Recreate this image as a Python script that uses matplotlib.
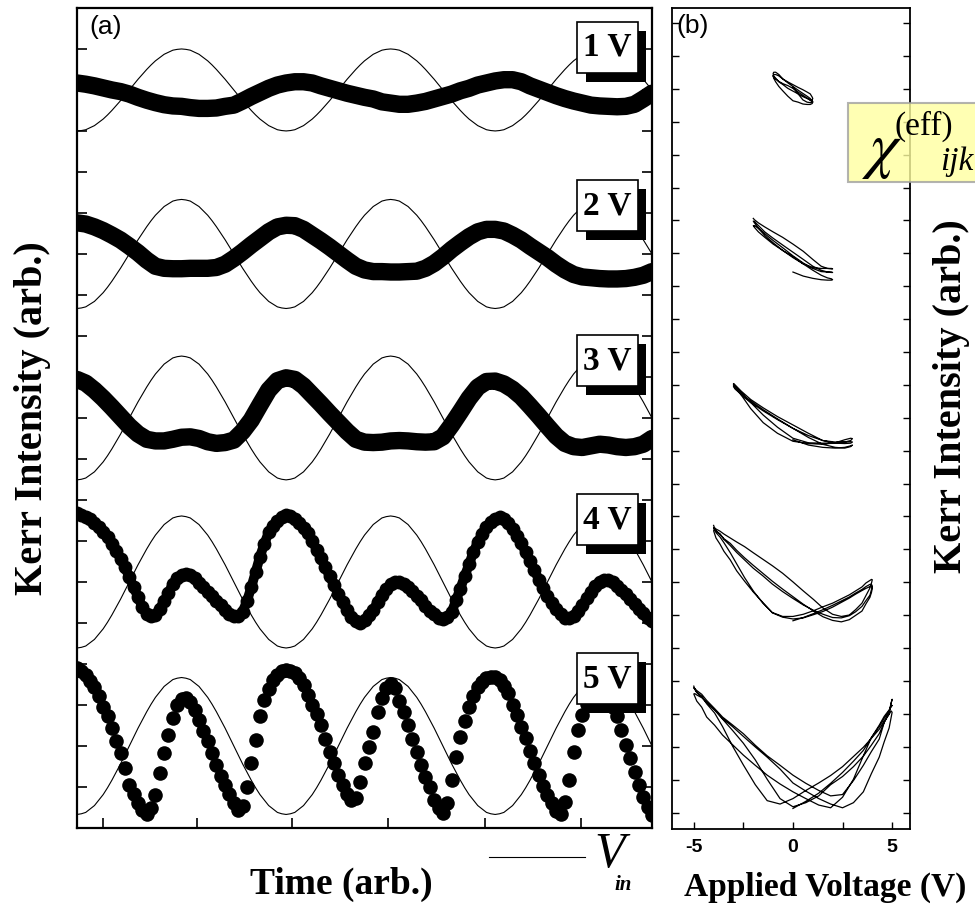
import numpy as np
import matplotlib.pyplot as plt
from matplotlib.patches import Rectangle
from matplotlib.lines import Line2D

plt.rcParams["mathtext.fontset"] = "stix"

# drive voltage V_in (normalised), one sample every 1/48 of a period, 2.75 periods
vin_norm = [
    -1.00, -0.99, -0.97, -0.92, -0.87, -0.79, -0.71, -0.61, -0.50, -0.38, -0.26, -0.13,
    0.00, 0.13, 0.26, 0.38, 0.50, 0.61, 0.71, 0.79, 0.87, 0.92, 0.97, 0.99,
    1.00, 0.99, 0.97, 0.92, 0.87, 0.79, 0.71, 0.61, 0.50, 0.38, 0.26, 0.13,
    0.00, -0.13, -0.26, -0.38, -0.50, -0.61, -0.71, -0.79, -0.87, -0.92, -0.97, -0.99,
    -1.00, -0.99, -0.97, -0.92, -0.87, -0.79, -0.71, -0.61, -0.50, -0.38, -0.26, -0.13,
    0.00, 0.13, 0.26, 0.38, 0.50, 0.61, 0.71, 0.79, 0.87, 0.92, 0.97, 0.99,
    1.00, 0.99, 0.97, 0.92, 0.87, 0.79, 0.71, 0.61, 0.50, 0.38, 0.26, 0.13,
    0.00, -0.13, -0.26, -0.38, -0.50, -0.61, -0.71, -0.79, -0.87, -0.92, -0.97, -0.99,
    -1.00, -0.99, -0.97, -0.92, -0.87, -0.79, -0.71, -0.61, -0.50, -0.38, -0.26, -0.13,
    0.00, 0.13, 0.26, 0.38, 0.50, 0.61, 0.71, 0.79, 0.87, 0.92, 0.97, 0.99,
    1.00, 0.99, 0.97, 0.92, 0.87, 0.79, 0.71, 0.61, 0.50, 0.38, 0.26, 0.13,
    0.00,
]

# Kerr signal (arb.), offset from its own row; 1-3 V read every 1/24 period
kerr_1v = [
    0.17, 0.14, 0.10, 0.05, 0.00, -0.04, -0.10, -0.18, -0.25, -0.31,
    -0.36, -0.39, -0.40, -0.43, -0.45, -0.45, -0.44, -0.40, -0.37, -0.27,
    -0.16, -0.06, 0.04, 0.12, 0.17, 0.20, 0.20, 0.17, 0.10, 0.04,
    -0.02, -0.08, -0.13, -0.18, -0.22, -0.29, -0.32, -0.35, -0.35, -0.32,
    -0.28, -0.22, -0.16, -0.10, -0.02, 0.04, 0.12, 0.17, 0.22, 0.25,
    0.25, 0.20, 0.10, 0.02, -0.06, -0.14, -0.21, -0.27, -0.32, -0.37,
    -0.39, -0.40, -0.41, -0.40, -0.35, -0.22, -0.08,
]
kerr_2v = [
    0.76, 0.73, 0.66, 0.57, 0.46, 0.34, 0.19, 0.03, -0.15, -0.30,
    -0.35, -0.36, -0.36, -0.35, -0.35, -0.35, -0.33, -0.25, -0.11, 0.05,
    0.22, 0.38, 0.54, 0.66, 0.70, 0.69, 0.60, 0.46, 0.32, 0.17,
    0.01, -0.15, -0.30, -0.39, -0.43, -0.43, -0.44, -0.44, -0.43, -0.42,
    -0.35, -0.23, -0.07, 0.11, 0.27, 0.42, 0.54, 0.60, 0.60, 0.56,
    0.46, 0.34, 0.19, 0.05, -0.09, -0.25, -0.39, -0.50, -0.56, -0.58,
    -0.60, -0.61, -0.61, -0.60, -0.57, -0.52, -0.43,
]
kerr_3v = [
    0.94, 0.85, 0.68, 0.48, 0.26, 0.03, -0.20, -0.39, -0.52, -0.56,
    -0.56, -0.52, -0.47, -0.46, -0.50, -0.58, -0.62, -0.60, -0.54, -0.33,
    -0.05, 0.32, 0.68, 0.91, 0.98, 0.94, 0.78, 0.56, 0.34, 0.11,
    -0.11, -0.33, -0.52, -0.59, -0.60, -0.59, -0.56, -0.55, -0.56, -0.58,
    -0.59, -0.58, -0.46, -0.17, 0.15, 0.48, 0.75, 0.89, 0.90, 0.83,
    0.70, 0.52, 0.29, 0.05, -0.20, -0.44, -0.62, -0.70, -0.72, -0.68,
    -0.64, -0.66, -0.70, -0.72, -0.70, -0.64, -0.50,
]
# 4 V and 5 V read every 1/48 period (plotted as dots)
kerr_4v = [
    1.69, 1.63, 1.59, 1.53, 1.45, 1.34, 1.23, 1.10, 0.93, 0.75,
    0.57, 0.36, 0.12, -0.13, -0.37, -0.61, -0.78, -0.84, -0.80, -0.65,
    -0.47, -0.26, -0.05, 0.09, 0.18, 0.19, 0.16, 0.09, -0.02, -0.13,
    -0.24, -0.35, -0.47, -0.57, -0.68, -0.78, -0.84, -0.84, -0.73, -0.47,
    -0.13, 0.24, 0.62, 0.93, 1.21, 1.37, 1.49, 1.58, 1.63, 1.60,
    1.54, 1.45, 1.32, 1.19, 1.00, 0.79, 0.58, 0.36, 0.14, -0.08,
    -0.29, -0.50, -0.69, -0.85, -0.95, -0.99, -0.93, -0.81, -0.69, -0.49,
    -0.31, -0.17, -0.06, 0.00, -0.01, -0.06, -0.12, -0.22, -0.33, -0.45,
    -0.58, -0.70, -0.79, -0.88, -0.91, -0.86, -0.74, -0.45, -0.16, 0.14,
    0.43, 0.73, 0.97, 1.17, 1.34, 1.47, 1.54, 1.59, 1.53, 1.45,
    1.30, 1.13, 0.94, 0.73, 0.50, 0.29, 0.06, -0.15, -0.34, -0.52,
    -0.67, -0.78, -0.87, -0.88, -0.82, -0.71, -0.56, -0.40, -0.25, -0.09,
    0.01, 0.05, 0.05, -0.01, -0.09, -0.19, -0.30, -0.41, -0.53, -0.65,
    -0.76, -0.87, -0.96,
]
kerr_5v = [
    1.91, 1.83, 1.72, 1.59, 1.43, 1.21, 0.96, 0.72, 0.43, 0.12,
    -0.18, -0.53, -0.94, -1.18, -1.40, -1.56, -1.67, -1.52, -1.20, -0.67,
    -0.18, 0.27, 0.68, 0.99, 1.14, 1.18, 1.08, 0.88, 0.64, 0.37,
    0.11, -0.16, -0.46, -0.72, -0.94, -1.16, -1.40, -1.56, -1.46, -0.99,
    -0.41, 0.15, 0.72, 1.12, 1.39, 1.61, 1.73, 1.82, 1.86, 1.84,
    1.78, 1.67, 1.49, 1.25, 1.00, 0.77, 0.51, 0.17, -0.14, -0.42,
    -0.71, -0.95, -1.16, -1.32, -1.28, -0.87, -0.42, -0.02, 0.35, 0.84,
    1.16, 1.41, 1.52, 1.41, 1.10, 0.84, 0.51, 0.17, -0.15, -0.46,
    -0.75, -0.99, -1.32, -1.52, -1.64, -1.40, -0.83, -0.26, 0.23, 0.61,
    0.94, 1.21, 1.43, 1.57, 1.65, 1.69, 1.68, 1.61, 1.47, 1.29,
    1.00, 0.76, 0.47, 0.19, -0.12, -0.42, -0.71, -0.97, -1.20, -1.40,
    -1.59, -1.67, -1.36, -0.83, -0.14, 0.39, 0.76, 1.02, 1.21, 1.31,
    1.34, 1.31, 1.18, 0.96, 0.72, 0.39, 0.02, -0.30, -0.63, -0.95,
    -1.24, -1.48, -1.69,
]

volts = [1, 2, 3, 4, 5]
row_labels = ["1 V", "2 V", "3 V", "4 V", "5 V"]

vin = np.array(vin_norm)
t_fine = np.arange(len(vin)) / 48.0
kerr = [kerr_1v, kerr_2v, kerr_3v, kerr_4v, kerr_5v]

# layout of the stacked rows
row_y = [18, 14, 10, 6, 2]
vin_amp = [1.0, 1.33, 1.51, 1.61, 1.67]
b_y = [-1.845, -6.98, -12.09, -17.12, -22.13]
b_gain = [1.40, 1.37, 1.155, 1.094, 1.033]
box_top = [0.983, 0.790, 0.601, 0.407, 0.213]

serif = "Liberation Serif"
sans = "Liberation Sans"

fig = plt.figure(figsize=(9.75, 9.14), dpi=100)
ax_a = fig.add_axes([0.0790, 0.0941, 0.5897, 0.8972])
ax_b = fig.add_axes([0.6892, 0.0930, 0.2441, 0.8982])

for i in range(5):
    k = np.array(kerr[i])
    if len(k) < len(vin):
        t, v = t_fine[::2], vin[::2]
    else:
        t, v = t_fine, vin

    ax_a.plot(t_fine, row_y[i] + vin_amp[i] * vin, color="k", lw=0.8, zorder=2)
    if i < 3:
        ax_a.plot(t, row_y[i] + k, color="k", lw=12.5,
                  solid_joinstyle="round", solid_capstyle="round", zorder=3)
    elif i == 3:
        ax_a.plot(t, row_y[i] + k, color="k", lw=7, solid_joinstyle="round", zorder=3)
        ax_a.plot(t, row_y[i] + k, "o", color="k", ms=10, mew=0, zorder=3)
    else:
        ax_a.plot(t, row_y[i] + k, "o", color="k", ms=10.5, mew=0, zorder=3)

    # same data as a Kerr-vs-voltage loop
    ax_b.plot(v * volts[i], b_y[i] + b_gain[i] * k, color="k", lw=0.9)

    # voltage tag with drop shadow
    x0, w, h = 0.870, 0.105, 0.062
    y0 = box_top[i] - h
    ax_a.add_patch(Rectangle((x0 + 0.015, y0 - 0.011), w, h, transform=ax_a.transAxes,
                             facecolor="k", edgecolor="none", zorder=5))
    ax_a.add_patch(Rectangle((x0, y0), w, h, transform=ax_a.transAxes,
                             facecolor="white", edgecolor="k", lw=1.2, zorder=6))
    ax_a.text(x0 + w / 2, y0 + h / 2, row_labels[i], transform=ax_a.transAxes,
              ha="center", va="center", fontsize=24, fontweight="bold",
              family=serif, zorder=7)

ax_a.set_xlim(0, 2.75)
ax_a.set_ylim(0, 20)
ax_a.set_yticks(range(1, 20))
ax_a.set_xticks([0.122, 0.574, 1.029, 1.488, 1.952, 2.411])
ax_a.tick_params(direction="in", length=7, width=1.2, left=True, right=True,
                 labelleft=False, labelbottom=False)
for s in ax_a.spines.values():
    s.set_linewidth(1.6)
ax_a.text(0.021, 0.992, "(a)", transform=ax_a.transAxes, ha="left", va="top",
          fontsize=19, family=sans)

ax_b.set_xlim(-6.1, 5.9)
ax_b.set_ylim(-24.5, 0.456)
ax_b.set_xticks([-5, 0, 5])
ax_b.set_xticklabels(["-5", "0", "5"], fontsize=14, fontweight="bold", family=sans)
ax_b.set_xticks([-2.5, 2.5], minor=True)
ax_b.set_yticks(range(-24, 1))
ax_b.tick_params(which="both", direction="in", length=5, width=1.0, left=True,
                 right=True, labelleft=False, pad=7)
for s in ax_b.spines.values():
    s.set_linewidth(1.3)
ax_b.text(0.02, 0.993, "(b)", transform=ax_b.transAxes, ha="left", va="top",
          fontsize=19, family=sans)

# axis titles
fig.text(0.0335, 0.5427, "Kerr Intensity (arb.)", rotation=90, ha="center",
         va="center", fontsize=29, fontweight="bold", family=serif)
fig.text(0.976, 0.567, "Kerr Intensity (arb.)", rotation=90, ha="center",
         va="center", fontsize=29, fontweight="bold", family=serif)
fig.text(0.350, 0.032, "Time (arb.)", ha="center", va="center", fontsize=27,
         fontweight="bold", family=serif)
fig.text(0.846, 0.029, "Applied Voltage (V)", ha="center", va="center",
         fontsize=24, fontweight="bold", family=serif)

# V_in legend
fig.add_artist(Line2D([489 / 975, 585 / 975], [1 - 857 / 914] * 2, color="k", lw=0.8))
fig.text(594 / 975, 1 - 855 / 914, "V", ha="left", va="center", fontsize=36,
         style="italic", family=serif)
fig.text(614 / 975, 1 - 885 / 914, "in", ha="left", va="center", fontsize=15,
         style="italic", fontweight="bold", family=serif)

# yellow annotation box
fig.add_artist(Rectangle((848 / 975, 1 - 182 / 914), 0.2, 79 / 914,
                         transform=fig.transFigure, facecolor="#ffffa0",
                         edgecolor="#a0a0a0", lw=1.5, alpha=0.8, zorder=10))
fig.text(862 / 975, 1 - 150 / 914, r"$\chi$", ha="left", va="center",
         fontsize=46, zorder=11)
fig.text(895 / 975, 1 - 126 / 914, "(eff)", ha="left", va="center",
         fontsize=24, family=serif, zorder=11)
fig.text(940 / 975, 1 - 162 / 914, "ijk", ha="left", va="center",
         fontsize=24, style="italic", family=serif, zorder=11)

fig.savefig("out.png", dpi=100)
